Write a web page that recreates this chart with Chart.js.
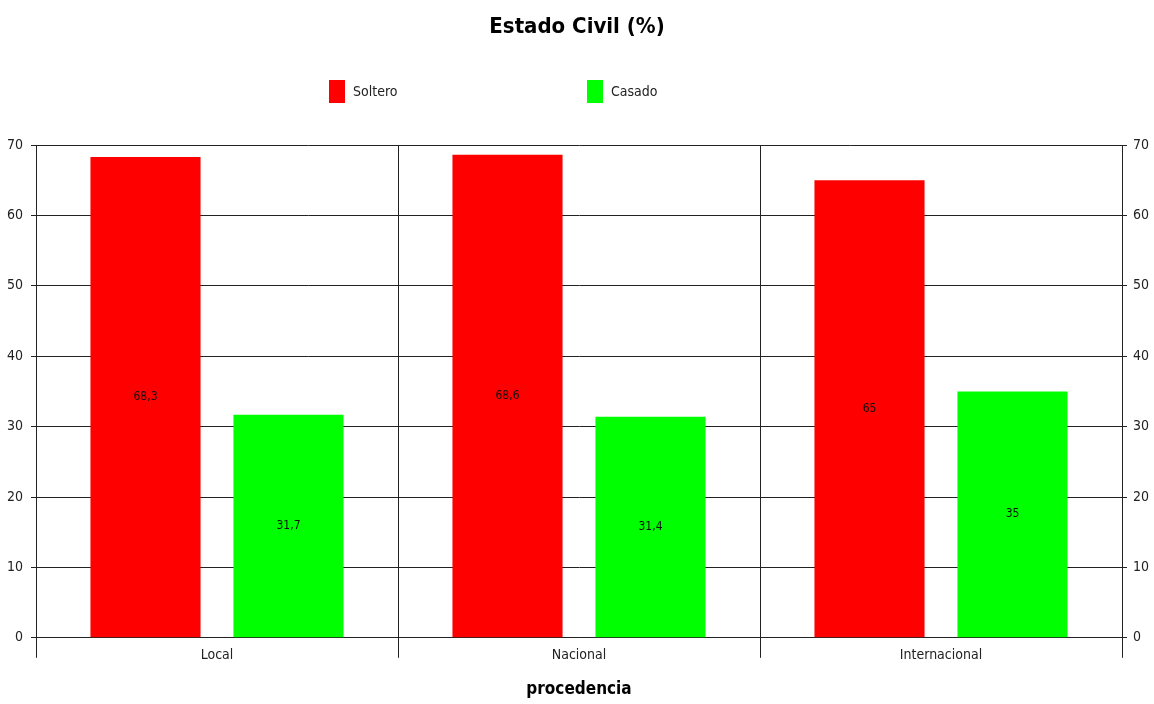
<!DOCTYPE html>
<html>
<head>
<meta charset="utf-8">
<title>Estado Civil (%)</title>
<script src="https://cdn.jsdelivr.net/npm/chart.js@4.4.1/dist/chart.umd.min.js"></script>
<style>
  html, body { margin: 0; padding: 0; background: #fff; }
  #wrap { width: 1154px; height: 704px; position: relative; }
</style>
</head>
<body>
<div id="wrap"><canvas id="graph"></canvas></div>
<script>
'use strict';

var categories = ['Local', 'Nacional', 'Internacional'];
var soltero = [68.3, 68.6, 65];
var casado = [31.7, 31.4, 35];
var yTicks = [0, 10, 20, 30, 40, 50, 60, 70];

var FONT = "'Liberation Sans Narrow', 'DejaVu Sans Condensed', 'Arial Narrow', sans-serif";

// value labels in the middle of each bar, decimal comma
var barLabels = {
    id: 'barLabels',
    afterDatasetsDraw: function (chart) {
        var ctx = chart.ctx;
        ctx.save();
        ctx.font = '12px ' + FONT;
        ctx.fillStyle = '#111';
        ctx.textAlign = 'center';
        ctx.textBaseline = 'middle';
        chart.data.datasets.forEach(function (ds, i) {
            chart.getDatasetMeta(i).data.forEach(function (bar, j) {
                var txt = String(ds.data[j]).replace('.', ',');
                ctx.fillText(txt, bar.x, (bar.y + bar.base) / 2);
            });
        });
        ctx.restore();
    }
};

// legend sits left of centre in the original, so draw it by hand
var legendPos = [0.27, 0.507];
var handLegend = {
    id: 'handLegend',
    afterDraw: function (chart) {
        var ctx = chart.ctx;
        var area = chart.chartArea;
        ctx.save();
        ctx.font = '14px ' + FONT;
        ctx.textBaseline = 'middle';
        chart.data.datasets.forEach(function (ds, i) {
            var x = Math.round(area.left + legendPos[i] * (area.right - area.left));
            var y = 80;
            ctx.fillStyle = ds.backgroundColor;
            ctx.fillRect(x, y, 16, 23);
            ctx.fillStyle = '#222';
            ctx.fillText(ds.label, x + 24, y + 12);
        });
        ctx.restore();
    }
};

onReady();

function onReady() {
    new Chart('graph', {
        type: 'bar',
        data: {
            labels: categories,
            datasets: [{
                label: 'Soltero',
                data: soltero,
                backgroundColor: '#ff0000'
            }, {
                label: 'Casado',
                data: casado,
                backgroundColor: '#00ff00'
            }]
        },
        plugins: [barLabels, handLegend],
        options: {
            responsive: true,
            maintainAspectRatio: false,
            animation: false,
            devicePixelRatio: 1,
            categoryPercentage: 0.79,
            barPercentage: 0.77,
            layout: { padding: 0 },
            plugins: {
                legend: { display: false },
                tooltip: { enabled: false },
                title: {
                    display: true,
                    text: 'Estado Civil (%)',
                    color: '#000',
                    font: { family: FONT, size: 22, weight: 'bold' },
                    padding: { top: 14, bottom: 104.6 }
                }
            },
            scales: {
                x: {
                    grid: {
                        offset: true,
                        color: '#222',
                        tickLength: 20,
                        tickColor: '#222'
                    },
                    border: { color: '#222', width: 1 },
                    ticks: {
                        padding: -11,
                        color: '#222',
                        font: { family: FONT, size: 14 }
                    },
                    title: {
                        display: true,
                        text: 'procedencia',
                        color: '#000',
                        font: { family: FONT, size: 17, weight: 'bold' },
                        padding: { top: 27, bottom: 4 }
                    }
                },
                y: {
                    min: 0,
                    max: 70,
                    afterBuildTicks: function (s) {
                        s.ticks = yTicks.map(function (v) { return { value: v }; });
                    },
                    afterFit: function (s) { s.width = 36; },
                    grid: { color: '#222', tickLength: 5 },
                    border: { color: '#222' },
                    ticks: {
                        padding: 8,
                        color: '#222',
                        font: { family: FONT, size: 14 }
                    }
                },
                y2: {
                    position: 'right',
                    min: 0,
                    max: 70,
                    afterBuildTicks: function (s) {
                        s.ticks = yTicks.map(function (v) { return { value: v }; });
                    },
                    afterFit: function (s) { s.width = 32; },
                    grid: { drawOnChartArea: false, color: '#222', tickLength: 5 },
                    border: { color: '#222' },
                    ticks: {
                        padding: 6,
                        color: '#222',
                        font: { family: FONT, size: 14 }
                    }
                }
            }
        }
    });
}
</script>
</body>
</html>
